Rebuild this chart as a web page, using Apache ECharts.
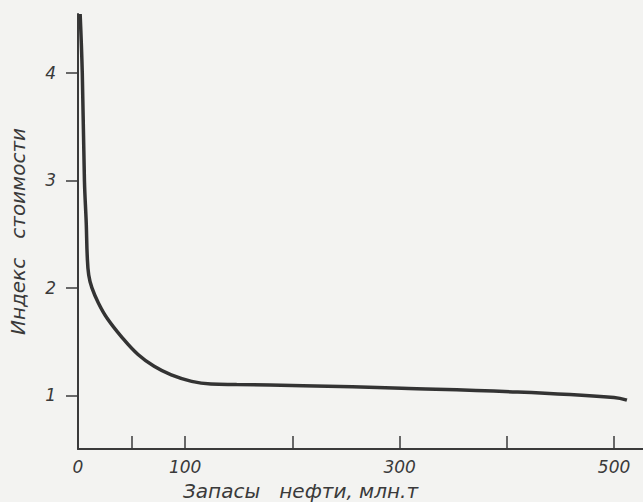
<!DOCTYPE html>
<html>
<head>
<meta charset="utf-8">
<script src="https://cdn.jsdelivr.net/npm/echarts@6/dist/echarts.min.js"></script>
<style>
html,body{margin:0;padding:0;background:#f3f3f1;}
#chart{width:643px;height:502px;}
</style>
</head>
<body>
<div id="chart"></div>
<script>
// Reserves of oil, mln t (x) and cost index (y)
const reserves  = [2, 4, 6, 7.7, 8.6, 10, 13, 19, 27, 41, 56, 71, 87, 106, 124, 148, 210, 302, 410, 500, 512];
const costIndex = [4.55, 4.0, 3.0, 2.6, 2.3, 2.12, 2.0, 1.86, 1.72, 1.54, 1.38, 1.27, 1.19, 1.13, 1.105, 1.10, 1.09, 1.065, 1.03, 0.98, 0.955];
const xTickValues = [50, 100, 200, 300, 400, 500];
const xLabelValues = [0, 100, 300, 500];
const yTickValues = [1, 2, 3, 4];
const xTitle = 'Запасы   нефти, млн.т';
const yTitle = 'Индекс   стоимости';

const ink = '#3a3a3a';
const font = 'DejaVu Sans';
const chart = echarts.init(document.getElementById('chart'), null, {renderer: 'svg'});
chart.setOption({
  backgroundColor: '#f3f3f1',
  animation: false,
  grid: {left: 73, right: 0, top: 14, bottom: 53},
  xAxis: {
    type: 'value', min: 0, max: 527,
    axisLine: {lineStyle: {color: ink, width: 2}},
    axisTick: {show: true, inside: true, length: 13, customValues: xTickValues, lineStyle: {color: ink, width: 1.5}},
    axisLabel: {customValues: xLabelValues, margin: 9, color: ink, fontFamily: font, fontStyle: 'italic', fontSize: 17},
    splitLine: {show: false}
  },
  yAxis: {
    type: 'value', min: 0.5, max: 4.55,
    name: yTitle, nameLocation: 'middle', nameGap: 50,
    nameTextStyle: {color: ink, fontFamily: font, fontStyle: 'italic', fontSize: 20},
    axisLine: {show: true, lineStyle: {color: ink, width: 2}},
    axisTick: {show: true, length: 12, customValues: yTickValues, lineStyle: {color: ink, width: 1.5}},
    axisLabel: {customValues: yTickValues, margin: 22, color: ink, fontFamily: font, fontStyle: 'italic', fontSize: 17},
    splitLine: {show: false}
  },
  graphic: [{
    type: 'text', left: 183, top: 481,
    style: {text: xTitle, fill: ink, font: 'italic 20px "DejaVu Sans"'}
  }],
  series: [{
    type: 'line',
    data: reserves.map((x, i) => [x, costIndex[i]]),
    smooth: 0.4,
    showSymbol: false,
    lineStyle: {color: '#333', width: 3.5}
  }]
});
</script>
</body>
</html>
